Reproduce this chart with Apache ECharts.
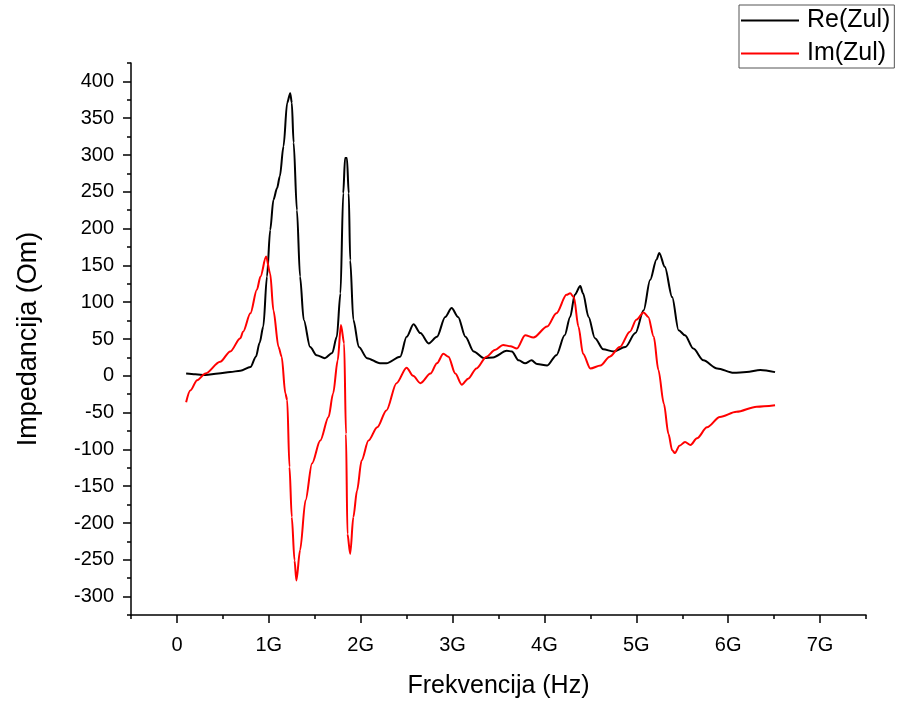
<!DOCTYPE html>
<html lang="en">
<head>
<meta charset="UTF-8">
<style>
  html, body { margin: 0; height: 100%; background: #fff; }
</style>
</head>
<body>
<div id="chart" style="width:898px;height:704px;"></div>
<script src="https://cdn.jsdelivr.net/npm/echarts@6/dist/echarts.min.js"></script>
<script>
// frequency in GHz, impedance in Ohm
var reFreq = [0.10, 0.20, 0.31, 0.45, 0.58, 0.69, 0.80, 0.86, 0.90, 0.94, 0.98, 1.015, 1.05, 1.09, 1.12, 1.16, 1.20, 1.233, 1.25, 1.27,
  1.306, 1.34, 1.38, 1.45, 1.52, 1.61, 1.69, 1.74, 1.78, 1.81, 1.83, 1.85, 1.87, 1.886, 1.92, 1.98, 2.07, 2.21, 2.28, 2.43,
  2.50, 2.575, 2.65, 2.74, 2.83, 2.92, 2.99, 3.06, 3.14, 3.23, 3.34, 3.44, 3.59, 3.645, 3.72, 3.79, 3.86, 3.92, 4.03, 4.13,
  4.22, 4.28, 4.33, 4.39, 4.42, 4.48, 4.55, 4.64, 4.75, 4.88, 4.99, 5.08, 5.15, 5.22, 5.25, 5.31, 5.39, 5.46, 5.53, 5.62,
  5.73, 5.88, 6.06, 6.20, 6.35, 6.51];
var reVal = [3, 2, 1, 3, 5, 7, 12, 26, 45, 67, 135, 198, 239, 255, 271, 312, 371, 384, 371, 317,
  225, 135, 76, 39, 28, 24, 31, 53, 112, 248, 296, 296, 248, 157, 76, 39, 24, 17, 17, 26,
  53, 70, 58, 44, 53, 80, 92, 80, 53, 33, 24, 25, 34, 33, 21, 17, 21, 16, 14, 28,
  55, 80, 110, 122, 112, 80, 51, 36, 33, 39, 58, 89, 130, 158, 167, 148, 107, 62, 55, 37,
  21, 10, 4, 5, 8, 5];

var imFreq = [0.10, 0.145, 0.22, 0.31, 0.47, 0.58, 0.69, 0.72, 0.80, 0.87, 0.91, 0.97, 1.015, 1.05, 1.106, 1.14, 1.18, 1.20, 1.225, 1.25,
  1.28, 1.30, 1.34, 1.40, 1.47, 1.56, 1.65, 1.70, 1.75, 1.785, 1.82, 1.84, 1.856, 1.886, 1.92, 1.96, 2.01, 2.085, 2.18, 2.28,
  2.39, 2.50, 2.57, 2.65, 2.76, 2.83, 2.90, 2.955, 3.03, 3.10, 3.17, 3.26, 3.37, 3.46, 3.55, 3.63, 3.70, 3.79, 3.88, 4.03,
  4.13, 4.24, 4.28, 4.32, 4.37, 4.42, 4.50, 4.61, 4.71, 4.82, 4.93, 5.00, 5.08, 5.13, 5.19, 5.24, 5.30, 5.35, 5.39, 5.42,
  5.47, 5.53, 5.59, 5.66, 5.77, 5.91, 6.09, 6.31, 6.51];
var imVal = [-36, -20, -6, 3, 19, 33, 51, 60, 85, 117, 135, 162, 139, 89, 39, 26, -24, -33, -124, -192,
  -251, -278, -237, -169, -119, -88, -56, -24, 21, 69, 44, -79, -215, -242, -192, -156, -115, -88, -70, -47,
  -10, 11, 0, -10, 3, 17, 30, 26, 3, -12, -4, 10, 26, 35, 42, 40, 37, 55, 52, 67,
  85, 110, 112, 107, 67, 30, 10, 14, 26, 39, 60, 76, 86, 80, 53, 8, -38, -79, -101, -105,
  -95, -90, -94, -85, -70, -56, -49, -42, -40];

var xMajor = [0, 1, 2, 3, 4, 5, 6, 7];
var xMinor = [-0.5, 0.5, 1.5, 2.5, 3.5, 4.5, 5.5, 6.5, 7.5];
var yMajor = [-300, -250, -200, -150, -100, -50, 0, 50, 100, 150, 200, 250, 300, 350, 400];
var yMinor = [-325, -275, -225, -175, -125, -75, -25, 25, 75, 125, 175, 225, 275, 325, 375, 425];

function zip(a, b) {
  var out = [];
  for (var i = 0; i < a.length; i++) out.push([a[i], b[i]]);
  return out;
}

var font = 'Liberation Sans, Arial, sans-serif';
var lineSt = { color: '#000', width: 1.5 };

var myChart = echarts.init(document.getElementById('chart'));
myChart.setOption({
  animation: false,
  backgroundColor: '#fff',
  grid: { left: 131, right: 32, top: 63, bottom: 89, outerBoundsMode: 'none', containLabel: false },
  legend: {
    orient: 'vertical',
    left: 739, top: 5,
    padding: [3, 4, 2, 2],
    itemWidth: 58, itemHeight: 2, itemGap: 8,
    icon: 'rect',
    borderColor: '#555', borderWidth: 1,
    textStyle: { fontFamily: font, fontSize: 25, color: '#000', padding: [0, 0, 0, 3] },
    data: ['Re(Zul)', 'Im(Zul)']
  },
  xAxis: [{
    type: 'value', min: -0.5, max: 7.5,
    name: 'Frekvencija (Hz)', nameLocation: 'middle', nameGap: 59,
    nameTextStyle: { fontFamily: font, fontSize: 25, color: '#000' },
    splitLine: { show: false },
    axisLine: { onZero: false, lineStyle: lineSt },
    axisTick: { inside: false, length: 8, lineStyle: lineSt, customValues: xMajor },
    axisLabel: {
      customValues: xMajor, margin: 20, fontFamily: font, fontSize: 20, color: '#000',
      formatter: function (v) { return v === 0 ? '0' : v + 'G'; }
    }
  }, {
    type: 'value', min: -0.5, max: 7.5, position: 'bottom',
    splitLine: { show: false },
    axisLine: { show: false, onZero: false },
    axisTick: { length: 4, lineStyle: lineSt, customValues: xMinor },
    axisLabel: { show: false }
  }],
  yAxis: [{
    type: 'value', min: -325, max: 425,
    name: 'Impedancija (Om)', nameLocation: 'middle', nameGap: 89,
    nameTextStyle: { fontFamily: font, fontSize: 27, color: '#000' },
    splitLine: { show: false },
    axisLine: { onZero: false, lineStyle: lineSt },
    axisTick: { length: 8, lineStyle: lineSt, customValues: yMajor },
    axisLabel: { customValues: yMajor, margin: 17, fontFamily: font, fontSize: 20, color: '#000' }
  }, {
    type: 'value', min: -325, max: 425, position: 'left',
    splitLine: { show: false },
    axisLine: { show: false, onZero: false },
    axisTick: { length: 4, lineStyle: lineSt, customValues: yMinor },
    axisLabel: { show: false }
  }],
  series: [{
    name: 'Re(Zul)', type: 'line', data: zip(reFreq, reVal),
    showSymbol: false, smooth: 0.3, smoothMonotone: 'x',
    color: '#000', lineStyle: { color: '#000', width: 2 }
  }, {
    name: 'Im(Zul)', type: 'line', data: zip(imFreq, imVal),
    showSymbol: false, smooth: 0.3, smoothMonotone: 'x',
    color: '#ff0000', lineStyle: { color: '#ff0000', width: 2 }
  }]
});
</script>
</body>
</html>
